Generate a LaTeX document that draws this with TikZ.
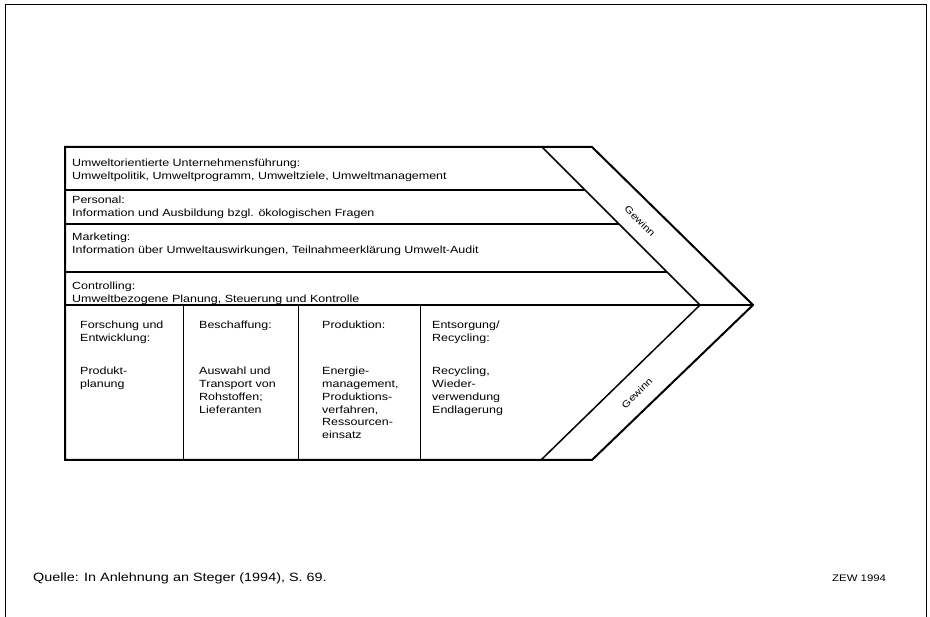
\documentclass[tikz,border=0pt]{standalone}
\usepackage{fontspec}
\setmainfont[FakeStretch=1.2]{Liberation Sans}
\begin{document}
\begin{tikzpicture}[x=1pt,y=-1pt,
    txt/.style={anchor=north west,inner sep=0pt,align=left,font=\fontsize{10.4}{12.8}\selectfont},
    gew/.style={inner sep=0pt,font=\fontsize{9.5}{11}\selectfont},
    outline/.style={line width=2pt,line join=miter},
    rowline/.style={line width=1.3pt},
    colline/.style={line width=0.9pt}]
    \useasboundingbox (0,0) rectangle (930,617);
    % Rahmen
    \draw[line width=1pt] (5,617) -- (5,5) -- (926,5) -- (926,617);
    % Wertkette
    \coordinate (tl) at (65,147);
    \coordinate (bl) at (65,460);
    \coordinate (ot) at (592,147);
    \coordinate (tip) at (753,305);
    \coordinate (ob) at (592,460);
    \coordinate (it) at (542,147);
    \coordinate (im) at (700,305);
    \coordinate (ib) at (541,460);
    \coordinate (ml) at (65,305);
    \draw[outline] (ot) -- (tl) -- (bl) -- (ob) -- (tip) -- cycle;
    \draw[outline] (ml) -- (tip);
    \draw[line width=1.5pt] (it) -- (im) -- (ib);
    \foreach \y in {190,224,272}
        \draw[rowline] (65,\y) -- ({542+\y-147},\y);
    \foreach \x in {183,298,420}
        \draw[colline] (\x,305) -- (\x,460);
    % Unterstuetzende Aktivitaeten
    \node[txt] (fuehrung) at (72,159) {Umweltorientierte Unternehmensführung:\\Umweltpolitik, Umweltprogramm, Umweltziele, Umweltmanagement};
    \node[txt] (personal) at (72,196) {Personal:\\Information und Ausbildung bzgl. ökologischen Fragen};
    \node[txt] (marketing) at (72,233) {Marketing:\\Information über Umweltauswirkungen, Teilnahmeerklärung Umwelt-Audit};
    \node[txt] (controlling) at (72,282) {Controlling:\\Umweltbezogene Planung, Steuerung und Kontrolle};
    % Primaere Aktivitaeten
    \node[txt] (fe) at (80,321) {Forschung und\\Entwicklung:};
    \node[txt] (fe2) at (80,367) {Produkt-\\planung};
    \node[txt] (besch) at (199,321) {Beschaffung:};
    \node[txt] (besch2) at (199,367) {Auswahl und\\Transport von\\Rohstoffen;\\Lieferanten};
    \node[txt] (prod) at (322,321) {Produktion:};
    \node[txt] (prod2) at (322,367) {Energie-\\management,\\Produktions-\\verfahren,\\Ressourcen-\\einsatz};
    \node[txt] (entsorg) at (432,321) {Entsorgung/\\Recycling:};
    \node[txt] (entsorg2) at (432,367) {Recycling,\\Wieder-\\verwendung\\Endlagerung};
    % Gewinn
    \node[gew,rotate=-45] (gew1) at (640,221) {Gewinn};
    \node[gew,rotate=45] (gew2) at (637,393) {Gewinn};
    % Quelle
    \node[anchor=base west,inner sep=0pt,font=\fontsize{12}{14}\selectfont] (quelle) at (33,582) {Quelle: In Anlehnung an Steger (1994), S. 69.};
    \node[anchor=base west,inner sep=0pt,font=\fontsize{9.5}{11}\selectfont] (zew) at (832,582) {ZEW 1994};
\end{tikzpicture}
\end{document}
